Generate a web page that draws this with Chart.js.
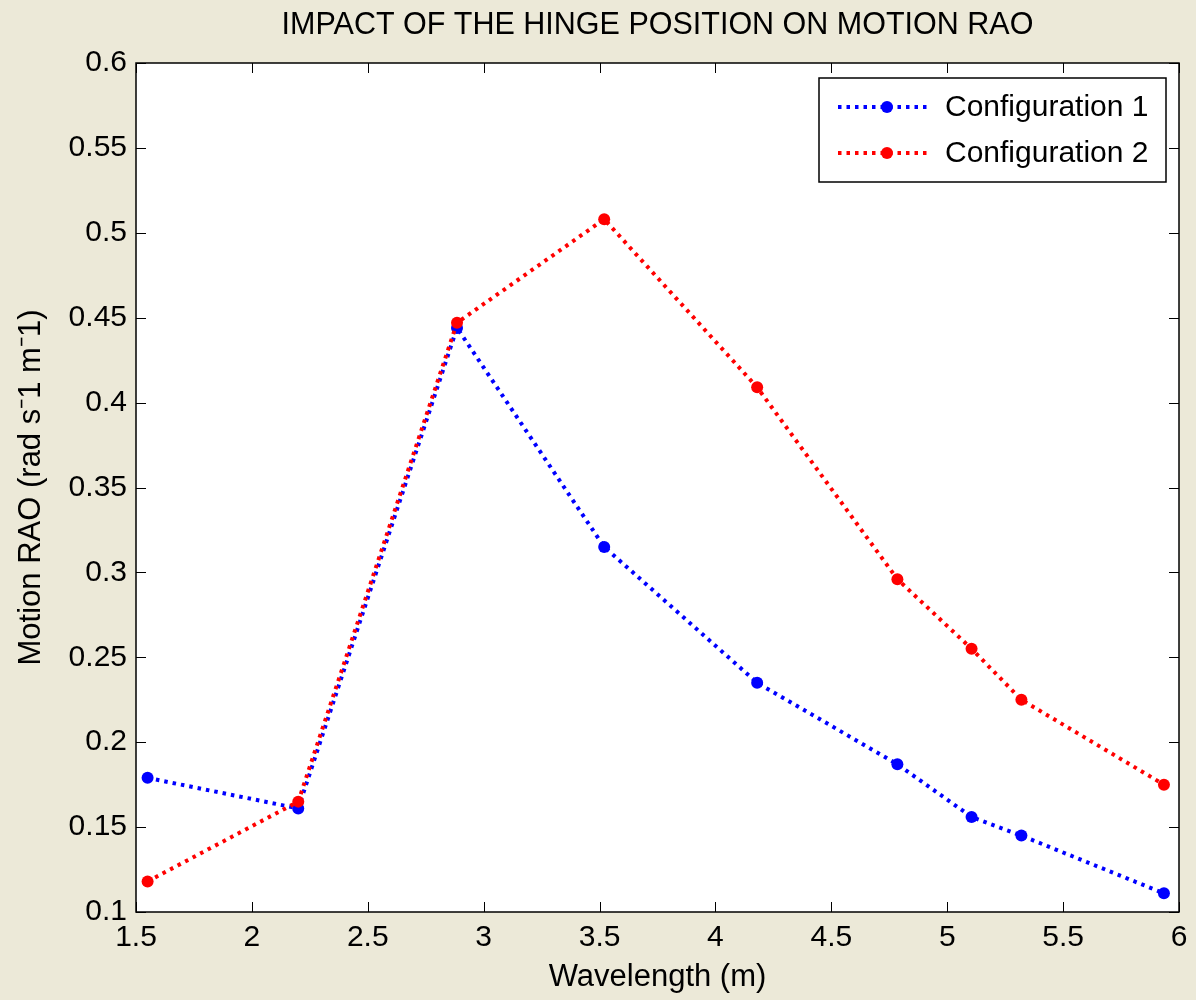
<!DOCTYPE html>
<html>
<head>
<meta charset="utf-8">
<script src="https://cdn.jsdelivr.net/npm/chart.js@4/dist/chart.umd.min.js"></script>
<style>
  html, body { margin: 0; padding: 0; background: #ECE9D8; }
  #wrap { width: 1196px; height: 1000px; position: relative; }
</style>
</head>
<body>
<div id="wrap"><canvas id="raoChart"></canvas></div>
<script>
// values
const wavelength = [1.55, 2.2, 2.885, 3.52, 4.18, 4.785, 5.105, 5.32, 5.935];
const config1 = [0.179, 0.161, 0.444, 0.315, 0.235, 0.187, 0.156, 0.145, 0.111];
const config2 = [0.118, 0.165, 0.447, 0.508, 0.409, 0.296, 0.255, 0.225, 0.175];
const seriesNames = ['Configuration 1', 'Configuration 2'];
const seriesColors = ['#0000FF', '#FF0000'];
const chartTitle = 'IMPACT OF THE HINGE POSITION ON MOTION RAO';

const FONT = '"Liberation Sans", Arial, sans-serif';

function toPoints(ys) {
    return ys.map((y, i) => ({ x: wavelength[i], y: y }));
}

function fmt(v) {
    return String(+Number(v).toFixed(2));
}

// white plot area, title over the axes, box with inward ticks on all four sides
const boxPlugin = {
    id: 'matlabBox',
    beforeDraw(chart) {
        const { ctx, chartArea: a } = chart;
        ctx.save();
        ctx.fillStyle = '#FFFFFF';
        ctx.fillRect(a.left, a.top, a.right - a.left, a.bottom - a.top);
        ctx.fillStyle = '#000';
        ctx.font = '30.5px ' + FONT;
        ctx.textAlign = 'center';
        ctx.textBaseline = 'middle';
        ctx.fillText(chartTitle, (a.left + a.right) / 2, 26);
        ctx.restore();
    },
    afterDatasetsDraw(chart) {
        const { ctx, chartArea: a, scales } = chart;
        const len = 10;
        ctx.save();
        ctx.strokeStyle = '#000';
        ctx.lineWidth = 1;
        ctx.beginPath();
        scales.x.ticks.forEach(t => {
            const px = Math.round(scales.x.getPixelForValue(t.value)) + 0.5;
            ctx.moveTo(px, a.bottom); ctx.lineTo(px, a.bottom - len);
            ctx.moveTo(px, a.top); ctx.lineTo(px, a.top + len);
        });
        scales.y.ticks.forEach(t => {
            const py = Math.round(scales.y.getPixelForValue(t.value)) + 0.5;
            ctx.moveTo(a.left, py); ctx.lineTo(a.left + len, py);
            ctx.moveTo(a.right, py); ctx.lineTo(a.right - len, py);
        });
        ctx.stroke();
        ctx.lineWidth = 1.5;
        ctx.strokeRect(a.left, a.top, a.right - a.left, a.bottom - a.top);
        ctx.restore();
    }
};

// legend box in the top right corner, line sample with marker in the middle
const legendPlugin = {
    id: 'matlabLegend',
    afterDraw(chart) {
        const { ctx, chartArea: a } = chart;
        const w = 347, h = 104;
        const x0 = a.right - 13 - w, y0 = a.top + 15;
        ctx.save();
        ctx.fillStyle = '#FFFFFF';
        ctx.fillRect(x0, y0, w, h);
        ctx.strokeStyle = '#000';
        ctx.lineWidth = 1.5;
        ctx.strokeRect(x0, y0, w, h);
        chart.data.datasets.forEach((ds, i) => {
            const yy = y0 + 29 + i * 46;
            ctx.strokeStyle = ds.borderColor;
            ctx.lineWidth = ds.borderWidth;
            ctx.setLineDash(ds.borderDash);
            ctx.beginPath();
            ctx.moveTo(x0 + 19, yy);
            ctx.lineTo(x0 + 110, yy);
            ctx.stroke();
            ctx.setLineDash([]);
            ctx.fillStyle = ds.pointBackgroundColor;
            ctx.beginPath();
            ctx.arc(x0 + 68, yy, ds.pointRadius, 0, Math.PI * 2);
            ctx.fill();
            ctx.fillStyle = '#000';
            ctx.font = '30px ' + FONT;
            ctx.textAlign = 'left';
            ctx.textBaseline = 'middle';
            ctx.fillText(ds.label, x0 + 126, yy + 1);
        });
        ctx.restore();
    }
};

function makeDataset(i, values, order) {
    return {
        label: seriesNames[i],
        data: toPoints(values),
        borderColor: seriesColors[i],
        backgroundColor: seriesColors[i],
        pointBackgroundColor: seriesColors[i],
        pointBorderWidth: 0,
        pointRadius: 6,
        borderWidth: 4,
        borderDash: [3.5, 5],
        tension: 0,
        fill: false,
        order: order
    };
}

const chart = new Chart('raoChart', {
    type: 'line',
    data: {
        datasets: [
            makeDataset(0, config1, 1),
            makeDataset(1, config2, 0)
        ]
    },
    plugins: [boxPlugin, legendPlugin],
    options: {
        responsive: true,
        maintainAspectRatio: false,
        animation: false,
        layout: { padding: { left: 0, right: 17, top: 63, bottom: 0 } },
        plugins: {
            legend: { display: false },
            tooltip: { enabled: false },
            title: { display: false }
        },
        scales: {
            x: {
                type: 'linear',
                min: 1.5,
                max: 6,
                grid: { display: false, drawTicks: true, tickLength: 8 },
                border: { display: false },
                ticks: {
                    stepSize: 0.5,
                    padding: 0,
                    color: '#000',
                    font: { family: FONT, size: 30 },
                    maxRotation: 0,
                    callback: v => fmt(v)
                },
                title: {
                    display: true,
                    text: 'Wavelength (m)',
                    color: '#000',
                    font: { family: FONT, size: 31 },
                    padding: { top: 4, bottom: 4 }
                },
                afterFit(scale) { scale.height = 88; }
            },
            y: {
                type: 'linear',
                min: 0.1,
                max: 0.6,
                grid: { display: false, drawTicks: false },
                border: { display: false },
                ticks: {
                    stepSize: 0.05,
                    padding: 9,
                    color: '#000',
                    font: { family: FONT, size: 30 },
                    callback: v => fmt(v)
                },
                title: {
                    display: true,
                    text: 'Motion RAO (rad s\u207B1 m\u207B1)',
                    color: '#000',
                    font: { family: FONT, size: 31 },
                    padding: { top: 13, bottom: 13 }
                },
                afterFit(scale) { scale.width = 136; }
            }
        }
    }
});
</script>
</body>
</html>
